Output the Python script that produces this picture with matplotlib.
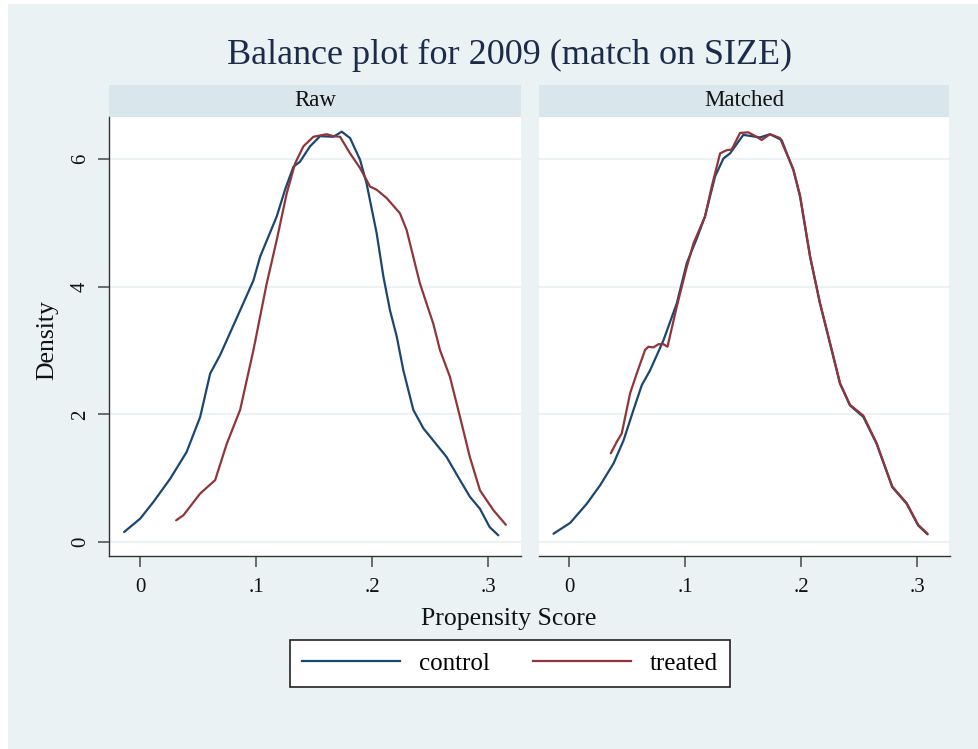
import matplotlib
matplotlib.use("Agg")
import matplotlib.pyplot as plt
from matplotlib.patches import Rectangle

# ---------------------------------------------------------------
# kernel density curves of the propensity score, read per panel
# ---------------------------------------------------------------

raw_control_x = [-0.0138, 0.0, 0.0115, 0.0258, 0.040, 0.0517, 0.0603, 0.0689,
                 0.0861, 0.0976, 0.1033, 0.1176, 0.1248, 0.132, 0.1377, 0.1463,
                 0.155, 0.1664, 0.1736, 0.1808, 0.1894, 0.195, 0.2037, 0.2095,
                 0.2152, 0.221, 0.2267, 0.2353, 0.244, 0.2525, 0.264, 0.2755,
                 0.284, 0.2927, 0.301, 0.3085]
raw_control_y = [0.157, 0.366, 0.63, 0.99, 1.41, 1.96, 2.64, 2.93,
                 3.63, 4.10, 4.47, 5.10, 5.52, 5.88, 5.96, 6.20,
                 6.36, 6.35, 6.43, 6.33, 5.99, 5.62, 4.84, 4.16,
                 3.63, 3.22, 2.69, 2.07, 1.78, 1.59, 1.33, 0.97,
                 0.71, 0.52, 0.235, 0.105]

raw_treated_x = [0.031, 0.0373, 0.0517, 0.0646, 0.0746, 0.0861, 0.0976, 0.109,
                 0.1176, 0.1262, 0.1334, 0.1406, 0.1492, 0.1607, 0.1664, 0.1722,
                 0.1808, 0.1894, 0.198, 0.2037, 0.2123, 0.2238, 0.2295, 0.241,
                 0.2525, 0.2582, 0.2668, 0.2755, 0.284, 0.2927, 0.3042, 0.315]
raw_treated_y = [0.34, 0.42, 0.76, 0.97, 1.54, 2.07, 3.01, 4.05,
                 4.73, 5.46, 5.93, 6.20, 6.35, 6.39, 6.36, 6.35,
                 6.09, 5.86, 5.57, 5.52, 5.39, 5.15, 4.89, 4.05,
                 3.42, 3.01, 2.59, 1.96, 1.33, 0.81, 0.50, 0.27]

matched_control_x = [-0.0135, 0.0009, 0.0152, 0.0267, 0.0382, 0.0468, 0.0554, 0.0626,
                     0.0697, 0.0812, 0.0927, 0.1013, 0.110, 0.117, 0.1257, 0.1329,
                     0.1386, 0.150, 0.1644, 0.173, 0.183, 0.1931, 0.1989, 0.2075,
                     0.216, 0.2247, 0.2333, 0.2419, 0.2534, 0.2648, 0.2783, 0.2907,
                     0.3006, 0.3087]
matched_control_y = [0.13, 0.30, 0.60, 0.89, 1.23, 1.59, 2.07, 2.46,
                     2.69, 3.16, 3.74, 4.37, 4.76, 5.10, 5.73, 6.01,
                     6.09, 6.38, 6.34, 6.39, 6.30, 5.83, 5.41, 4.47,
                     3.74, 3.11, 2.48, 2.14, 1.96, 1.54, 0.86, 0.60,
                     0.26, 0.12]

matched_treated_x = [0.0359, 0.041, 0.0453, 0.0525, 0.0582, 0.0654, 0.0683, 0.0726,
                     0.0769, 0.0812, 0.0847, 0.0927, 0.1013, 0.1071, 0.117, 0.1228,
                     0.130, 0.1357, 0.140, 0.1472, 0.1543, 0.1615, 0.1658, 0.173,
                     0.1816, 0.1931, 0.1989, 0.2075, 0.216, 0.2247, 0.2333, 0.2419,
                     0.2534, 0.2648, 0.2783, 0.2907, 0.3006, 0.3087]
matched_treated_y = [1.39, 1.57, 1.70, 2.33, 2.64, 3.01, 3.06, 3.05,
                     3.10, 3.10, 3.06, 3.69, 4.31, 4.68, 5.10, 5.57,
                     6.09, 6.14, 6.15, 6.41, 6.42, 6.35, 6.30, 6.39,
                     6.33, 5.84, 5.43, 4.48, 3.75, 3.12, 2.49, 2.15,
                     1.98, 1.55, 0.87, 0.61, 0.27, 0.13]

x_ticks = [0, 0.1, 0.2, 0.3]
x_tick_labels = ["0", ".1", ".2", ".3"]
y_ticks = [0, 2, 4, 6]
y_tick_labels = ["0", "2", "4", "6"]

panel_titles = ["Raw", "Matched"]
series_labels = ["control", "treated"]

# ---------------------------------------------------------------
# style (Stata s2color look)
# ---------------------------------------------------------------

BG_COLOR = "#EAF2F3"
STRIP_COLOR = "#D9E6EB"
GRID_COLOR = "#EAF2F3"
AXIS_COLOR = "#333333"
TEXT_COLOR = "#111111"
NAVY = "#1A476F"
MAROON = "#90353B"
W, H = 979, 749

plt.rcParams["font.family"] = ["Liberation Serif", "DejaVu Serif"]

fig = plt.figure(figsize=(W / 100, H / 100), dpi=100)
fig.patch.set_facecolor("white")
fig.patches.append(Rectangle((8 / W, 0), 1 - 8 / W, 1 - 4 / H,
                             transform=fig.transFigure, facecolor=BG_COLOR,
                             edgecolor="none", zorder=-10))


def px_box(x0, x1, y_top, y_bot):
    return [x0 / W, 1 - y_bot / H, (x1 - x0) / W, (y_bot - y_top) / H]


ax_raw = fig.add_axes(px_box(109.5, 520.5, 117, 556))
ax_match = fig.add_axes(px_box(538.5, 949.5, 117, 556))

panels = [
    (ax_raw, raw_control_x, raw_control_y, raw_treated_x, raw_treated_y),
    (ax_match, matched_control_x, matched_control_y, matched_treated_x, matched_treated_y),
]

strip_h = 32 / 439

for i, (ax, cx, cy, tx, ty) in enumerate(panels):
    ax.set_facecolor("white")
    ax.set_xlim(-0.0264, 0.3276)
    ax.set_ylim(-0.219, 6.66)

    for yv in y_ticks:
        ax.axhline(yv, color=GRID_COLOR, linewidth=1.5, zorder=1)

    ax.plot(cx, cy, color=NAVY, linewidth=1.6, zorder=3,
            solid_joinstyle="round", solid_capstyle="round")
    ax.plot(tx, ty, color=MAROON, linewidth=1.6, zorder=4,
            solid_joinstyle="round", solid_capstyle="round")

    for s in ["top", "right"]:
        ax.spines[s].set_visible(False)
    ax.spines["bottom"].set_color(AXIS_COLOR)
    ax.spines["bottom"].set_linewidth(1.0)

    ax.set_xticks(x_ticks)
    ax.set_xticklabels(x_tick_labels, fontsize=15, color=TEXT_COLOR)
    ax.tick_params(axis="x", length=8, width=1.2, color="#555555", pad=8)

    if i == 0:
        ax.spines["left"].set_color(AXIS_COLOR)
        ax.spines["left"].set_linewidth(1.0)
        ax.set_yticks(y_ticks)
        ax.set_yticklabels(y_tick_labels, fontsize=15, color=TEXT_COLOR,
                           rotation=90, va="center")
        ax.tick_params(axis="y", length=8, width=1.2, color="#555555", pad=6)
    else:
        ax.spines["left"].set_visible(False)
        ax.set_yticks([])

    # panel header strip
    ax.add_patch(Rectangle((0, 1), 1, strip_h, transform=ax.transAxes,
                           facecolor=STRIP_COLOR, edgecolor="none", clip_on=False))
    ax.text(0.5, 1 + strip_h / 2, panel_titles[i], transform=ax.transAxes,
            ha="center", va="center", fontsize=16.5, color=TEXT_COLOR)

fig.text(510 / W, 1 - 55 / H, "Balance plot for 2009 (match on SIZE)",
         ha="center", va="center", fontsize=26, color="#1C2B4A")
fig.text(509 / W, 1 - 619 / H, "Propensity Score",
         ha="center", va="center", fontsize=18.5, color=TEXT_COLOR)
fig.text(47 / W, 1 - 340 / H, "Density", rotation=90,
         ha="center", va="center", fontsize=18.5, color=TEXT_COLOR)

handles = [plt.Line2D([], [], color=NAVY, linewidth=1.6),
           plt.Line2D([], [], color=MAROON, linewidth=1.6)]
leg = fig.legend(handles, series_labels, loc="center",
                 bbox_to_anchor=(510 / W, 1 - 663.5 / H), ncol=2,
                 fontsize=18, frameon=True, fancybox=False,
                 handlelength=3.9, handletextpad=0.75, columnspacing=1.75,
                 borderpad=0.5, borderaxespad=0)
frame = leg.get_frame()
frame.set_facecolor("white")
frame.set_edgecolor("#222222")
frame.set_linewidth(1.2)
frame.set_alpha(1)

fig.savefig("out.png", dpi=100, facecolor=fig.get_facecolor())
